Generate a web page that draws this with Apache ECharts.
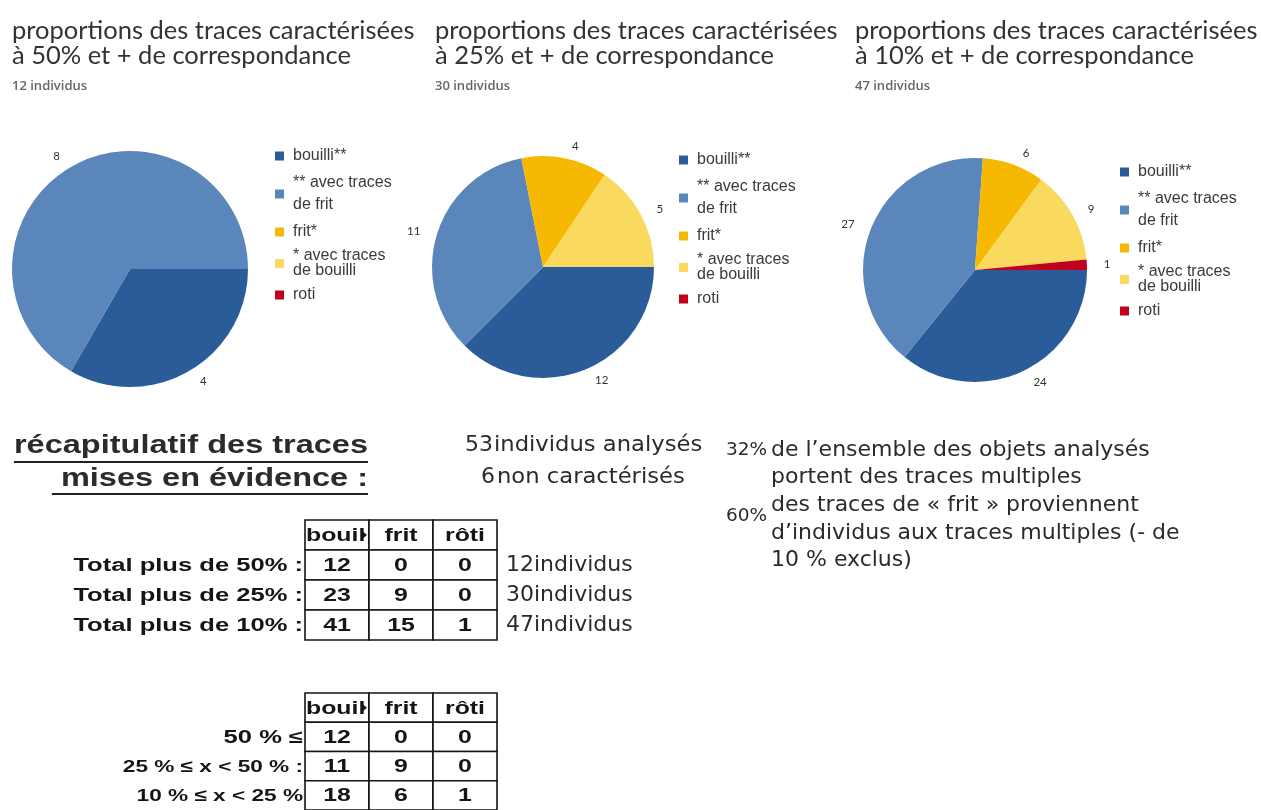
<!DOCTYPE html>
<html>
<head>
<meta charset="utf-8">
<script src="https://cdn.jsdelivr.net/npm/echarts@6/dist/echarts.min.js"></script>
<style>
  html, body { margin: 0; padding: 0; background: #ffffff; }
  #main { width: 1261px; height: 810px; }
</style>
</head>
<body>
<div id="main"></div>
<script>
// ---- data -------------------------------------------------------------
const sliceNames = ['bouilli**', '** avec traces\nde frit', 'frit*', '* avec traces\nde bouilli', 'roti'];

const pieTitles = [
  'proportions des traces caractérisées\nà 50% et + de correspondance',
  'proportions des traces caractérisées\nà 25% et + de correspondance',
  'proportions des traces caractérisées\nà 10% et + de correspondance'
];
const pieSubtitles = ['12 individus', '30 individus', '47 individus'];

// slice counts, same order as sliceNames
const pie50 = [4, 8, 0, 0, 0];
const pie25 = [12, 11, 4, 5, 0];
const pie10 = [24, 27, 6, 9, 1];

// summary tables
const tableCols = ['bouil', 'frit', 'rôti'];

const totalRows = ['Total plus de 50% :', 'Total plus de 25% :', 'Total plus de 10% :'];
const totalBouilli = [12, 23, 41];
const totalFrit = [0, 9, 15];
const totalRoti = [0, 0, 1];
const totalIndividus = [12, 30, 47];

const rangeRows = ['50 % ≤', '25 % ≤ x < 50 % :', '10 % ≤ x < 25 %'];
const rangeBouilli = [12, 11, 18];
const rangeFrit = [0, 9, 6];
const rangeRoti = [0, 0, 1];

// overall figures
const analysedCount = 53;
const uncharacterisedCount = 6;
const multiTraceShare = 32;
const fritFromMultiShare = 60;

// ---- styling -----------------------------------------------------------
const sliceColors = ['#2B5C9A', '#5A86BC', '#F6B800', '#F9D95E', '#C0001C'];
const titleFont = 'Lato, "Open Sans", sans-serif';
const dejavu = '"DejaVu Sans", Verdana, sans-serif';
const arial = '"Liberation Sans", Arial, sans-serif';
const ink = '#2b2b2b';
const cellInk = '#151515';
const wideX = 1.38;   // spreadsheet lettering is drawn horizontally widened

const pieLayout = [
  { center: [130, 269], radius: 118, titleLeft: 12, legendLeft: 275, legendTop: 148 },
  { center: [543, 267], radius: 111, titleLeft: 435, legendLeft: 679, legendTop: 152 },
  { center: [975, 270], radius: 112, titleLeft: 855, legendLeft: 1120, legendTop: 164 }
];
const pieValues = [pie50, pie25, pie10];

// ---- pies ------------------------------------------------------------
const titles = pieLayout.map((l, i) => ({
  text: pieTitles[i],
  subtext: pieSubtitles[i],
  left: l.titleLeft,
  top: 18,
  padding: 0,
  itemGap: 10,
  textStyle: { fontFamily: titleFont, fontSize: 25.5, fontWeight: 'normal', color: '#333333', lineHeight: 25 },
  subtextStyle: { fontFamily: '"Open Sans", sans-serif', fontSize: 13, fontWeight: 600, color: '#666666', lineHeight: 14 }
}));

const legends = pieLayout.map((l) => ({
  orient: 'vertical',
  left: l.legendLeft,
  top: l.legendTop,
  padding: 0,
  itemWidth: 9,
  itemHeight: 9,
  itemGap: 8,
  icon: 'rect',
  selectedMode: false,
  textStyle: { fontFamily: arial, fontSize: 16, color: '#3a3a3a', padding: [0, 0, 0, 4] },
  data: sliceNames.map((n, k) => ({
    name: n,
    textStyle: { lineHeight: k === 1 ? 22 : (k === 3 ? 15 : 16) }
  }))
}));

const pieSeries = pieLayout.map((l, i) => ({
  type: 'pie',
  center: l.center,
  radius: l.radius,
  startAngle: 0,
  clockwise: true,
  avoidLabelOverlap: false,
  silent: true,
  data: pieValues[i]
    .map((v, k) => ({ name: sliceNames[k], value: v, itemStyle: { color: sliceColors[k] } }))
    .filter(d => d.value > 0),
  itemStyle: { borderWidth: 0 },
  label: {
    show: true,
    position: 'outside',
    formatter: '{c}',
    fontFamily: titleFont,
    fontSize: 11.5,
    color: '#333333'
  },
  labelLine: { show: false, length: 12, length2: 0 }
}));

// ---- tables ------------------------------------------------------------
function tableCells(columns) {
  const cells = [];
  tableCols.forEach((c, i) => cells.push({ pos: [i, 0], text: c }));
  columns.forEach((vals, i) => vals.forEach((v, j) => cells.push({ pos: [i, j + 1], text: String(v) })));
  return cells;
}

// rowStyles: per data row [font, horizontal scale]
function tableSeries(xIdx, yIdx, columns, rowLabels, rowStyles) {
  const cells = tableCells(columns);
  return {
    type: 'custom',
    coordinateSystem: 'cartesian2d',
    xAxisIndex: xIdx,
    yAxisIndex: yIdx,
    silent: true,
    clip: false,
    data: cells.map(c => c.pos),
    renderItem(params, api) {
      const col = api.value(0), row = api.value(1);
      const p = api.coord([col, row]);
      const s = api.size([1, 1]);
      const left = p[0] - s[0] / 2;
      const isHeadFirst = row === 0 && col === 0;
      const children = [
        {
          type: 'rect',
          shape: { x: left, y: p[1] - s[1] / 2, width: s[0], height: s[1] },
          style: { fill: '#ffffff', stroke: cellInk, lineWidth: 1.6 }
        },
        {
          type: 'text',
          x: isHeadFirst ? left + 1 : p[0],
          y: p[1] + 1,
          scaleX: wideX,
          style: {
            text: cells[params.dataIndex].text,
            x: 0, y: 0,
            align: isHeadFirst ? 'left' : 'center', verticalAlign: 'middle',
            font: 'bold 18px ' + arial, fill: cellInk
          }
        }
      ];
      if (isHeadFirst) {
        // overflow marker of the truncated header
        const r = left + s[0] - 2;
        children.push({
          type: 'polygon',
          shape: { points: [[r - 6, p[1] - 5], [r, p[1]], [r - 6, p[1] + 5]] },
          style: { fill: cellInk }
        });
      }
      if (col === 0 && row >= 1) {
        const st = rowStyles[row - 1];
        children.push({
          type: 'text',
          x: left - 2,
          y: p[1] + 1,
          scaleX: st[1],
          style: {
            text: rowLabels[row - 1],
            x: 0, y: 0,
            align: 'right', verticalAlign: 'middle',
            font: st[0], fill: cellInk
          }
        });
      }
      return { type: 'group', children };
    }
  };
}

const grids = [
  { left: 305, top: 520, width: 192, height: 120 },
  { left: 305, top: 693, width: 192, height: 120 }
];

const hiddenCat = (gi) => ({ gridIndex: gi, type: 'category', data: tableCols, show: false });

const rowAxisBase = {
  type: 'category',
  inverse: true,
  axisLine: { show: false },
  axisTick: { show: false },
  splitLine: { show: false }
};

const yAxes = [
  Object.assign({}, rowAxisBase, {
    gridIndex: 0, position: 'left', data: [''].concat(totalRows), axisLabel: { show: false }
  }),
  Object.assign({}, rowAxisBase, {
    gridIndex: 0,
    position: 'right',
    data: [''].concat(totalIndividus.map(n => n + 'individus')),
    axisLabel: { interval: 0, margin: 9, fontFamily: dejavu, fontSize: 22, color: ink }
  }),
  Object.assign({}, rowAxisBase, {
    gridIndex: 1, position: 'left', data: [''].concat(rangeRows), axisLabel: { show: false }
  })
];

const boldRow = ['bold 18px ' + arial, 1.42];
const thinRow = ['bold 17px ' + arial, 1.33];

// ---- free text -----------------------------------------------------------
const measureCtx = document.createElement('canvas').getContext('2d');
function textWidth(str, font) { measureCtx.font = font; return measureCtx.measureText(str).width; }

const headFont = 'bold 25px ' + arial;
const headScale = 1.3;
const headRight = 368;
const head1 = 'récapitulatif des traces';
const head2 = ' mises en évidence :';

const bodyFont = '22px ' + dejavu;
const pctFont = '18.5px ' + dejavu;

function txt(text, x, y, font, align, scaleX) {
  return {
    type: 'text', silent: true, x, y, scaleX: scaleX || 1,
    style: { text, x: 0, y: 0, font, fill: ink, align: align || 'left', verticalAlign: 'middle' }
  };
}

const graphics = [
  txt(head1, headRight, 446, headFont, 'right', headScale),
  txt(head2, headRight, 479, headFont, 'right', headScale),
  { type: 'line', silent: true, shape: { x1: headRight - textWidth(head1, headFont) * headScale, y1: 462, x2: headRight, y2: 462 }, style: { stroke: '#222', lineWidth: 2 } },
  { type: 'line', silent: true, shape: { x1: headRight - textWidth(head2, headFont) * headScale, y1: 494, x2: headRight, y2: 494 }, style: { stroke: '#222', lineWidth: 2 } },

  txt(String(analysedCount), 493, 445, bodyFont, 'right'),
  txt('individus analysés', 494, 445, bodyFont, 'left', 1.03),
  txt(String(uncharacterisedCount), 495, 477, bodyFont, 'right'),
  txt('non caractérisés', 497, 477, bodyFont, 'left', 1.03),

  txt(multiTraceShare + '%', 767, 450, pctFont, 'right'),
  txt('de l’ensemble des objets analysés', 771, 450, bodyFont),
  txt('portent des traces multiples', 771, 477, bodyFont),
  txt(fritFromMultiShare + '%', 767, 516, pctFont, 'right'),
  txt('des traces de « frit » proviennent', 771, 505, bodyFont),
  txt('d’individus aux traces multiples (- de', 771, 533, bodyFont),
  txt('10 % exclus)', 771, 560, bodyFont)
];

// ---- chart -------------------------------------------------------------
const chart = echarts.init(document.getElementById('main'), null, { renderer: 'canvas' });
chart.setOption({
  backgroundColor: '#ffffff',
  animation: false,
  title: titles,
  legend: legends,
  grid: grids,
  xAxis: [hiddenCat(0), hiddenCat(1)],
  yAxis: yAxes,
  series: pieSeries.concat([
    tableSeries(0, 0, [totalBouilli, totalFrit, totalRoti], totalRows, [boldRow, boldRow, boldRow]),
    tableSeries(1, 2, [rangeBouilli, rangeFrit, rangeRoti], rangeRows, [boldRow, thinRow, thinRow])
  ]),
  graphic: graphics
});
</script>
</body>
</html>
